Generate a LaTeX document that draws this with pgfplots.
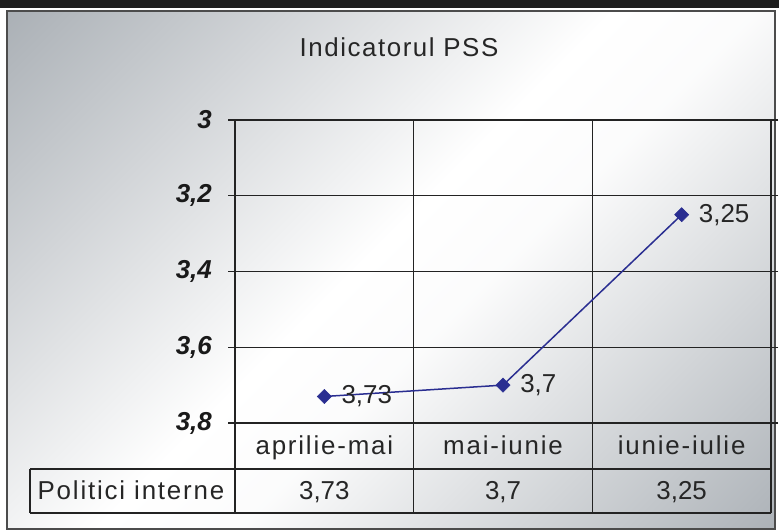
\documentclass[border=0pt]{standalone}
\usepackage{fontspec}
\setmainfont{Liberation Sans}
\newfontfamily\spaced[LetterSpace=7]{Liberation Sans}
\newfontfamily\tspaced[LetterSpace=6]{Liberation Sans}
\usepackage{pgfplots}
\pgfplotsset{compat=1.18}
\definecolor{bgdark}{RGB}{134,142,150}
\definecolor{ser}{RGB}{42,46,145}
\definecolor{gridc}{RGB}{35,35,35}
\pgfdeclarehorizontalshading{bgsh}{100bp}{color(0bp)=(bgdark); color(48bp)=(white); color(56bp)=(white!97!bgdark); color(100bp)=(bgdark)}
\begin{document}
\begin{tikzpicture}
\begin{scope}[x=1bp,y=1bp]
\fill[white] (0,0) rectangle (779,530);
\fill[black!88] (0,522) rectangle (779,530);
\shade[shading=bgsh, shading angle=-45] (7,1) rectangle (775,519);
\draw[black!70, line width=1.3bp] (7,1) rectangle (775,519);
\node[font=\tspaced\fontsize{26}{26}\selectfont, text=black!85] at (399,483) {Indicatorul PSS};
% table lines
\draw[gridc, line width=1.1bp] (30,61) -- (771,61);
\draw[gridc, line width=1.1bp] (30,17) -- (771,17);
\draw[gridc, line width=1.1bp] (30,61) -- (30,17);
\foreach \xx in {235,413.67,592.33,771} {\draw[gridc, line width=1.1bp] (\xx,107) -- (\xx,17);}
\node[font=\spaced\fontsize{26}{26}\selectfont, text=black!85, anchor=base] at (131,30) {Politici interne};
\end{scope}
\begin{axis}[
  at={(235bp,107bp)}, anchor=south west,
  scale only axis, width=536bp, height=303bp,
  xmin=-0.5, xmax=2.5, ymin=3, ymax=3.8, y dir=reverse,
  xtick={0,1,2},
  xticklabels={aprilie-mai,mai-iunie,iunie-iulie},
  minor xtick={0.5,1.5},
  xminorgrids=true,
  ytick={3,3.2,3.4,3.6,3.8},
  ymajorgrids=true,
  grid style={gridc, line width=1.1bp},
  minor grid style={gridc, line width=1.1bp},
  axis line style={gridc, line width=1.1bp},
  tick align=outside,
  major tick length=7bp,
  minor tick length=0pt,
  xtick style={draw=none},
  ytick style={gridc, line width=1.1bp},
  yticklabel style={font=\fontsize{26}{26}\selectfont\bfseries\itshape, text=black!90, inner sep=0pt, xshift=-16bp},
  xticklabel style={font=\spaced\fontsize{26}{26}\selectfont, text=black!85, anchor=base, inner sep=0pt, yshift=-25bp},
  /pgf/number format/use comma,
  /pgf/number format/assume math mode=true,
  clip=false,
]
\addplot[ser, line width=1.5bp, mark=square*, mark size=5bp,
  mark options={rotate=45, fill=ser, draw=ser, line width=0.5bp},
  nodes near coords, point meta=y,
  every node near coord/.append style={font=\fontsize{26}{26}\selectfont, text=black!85, anchor=west, inner sep=0pt, xshift=17bp, yshift=0bp}]
  coordinates {(0,3.73) (1,3.7) (2,3.25)};
\node[font=\fontsize{26}{26}\selectfont, text=black!85, anchor=base] at (axis cs:0,3.8) [yshift=-76bp] {3,73};
\node[font=\fontsize{26}{26}\selectfont, text=black!85, anchor=base] at (axis cs:1,3.8) [yshift=-76bp] {3,7};
\node[font=\fontsize{26}{26}\selectfont, text=black!85, anchor=base] at (axis cs:2,3.8) [yshift=-76bp] {3,25};
\end{axis}
\end{tikzpicture}
\end{document}
